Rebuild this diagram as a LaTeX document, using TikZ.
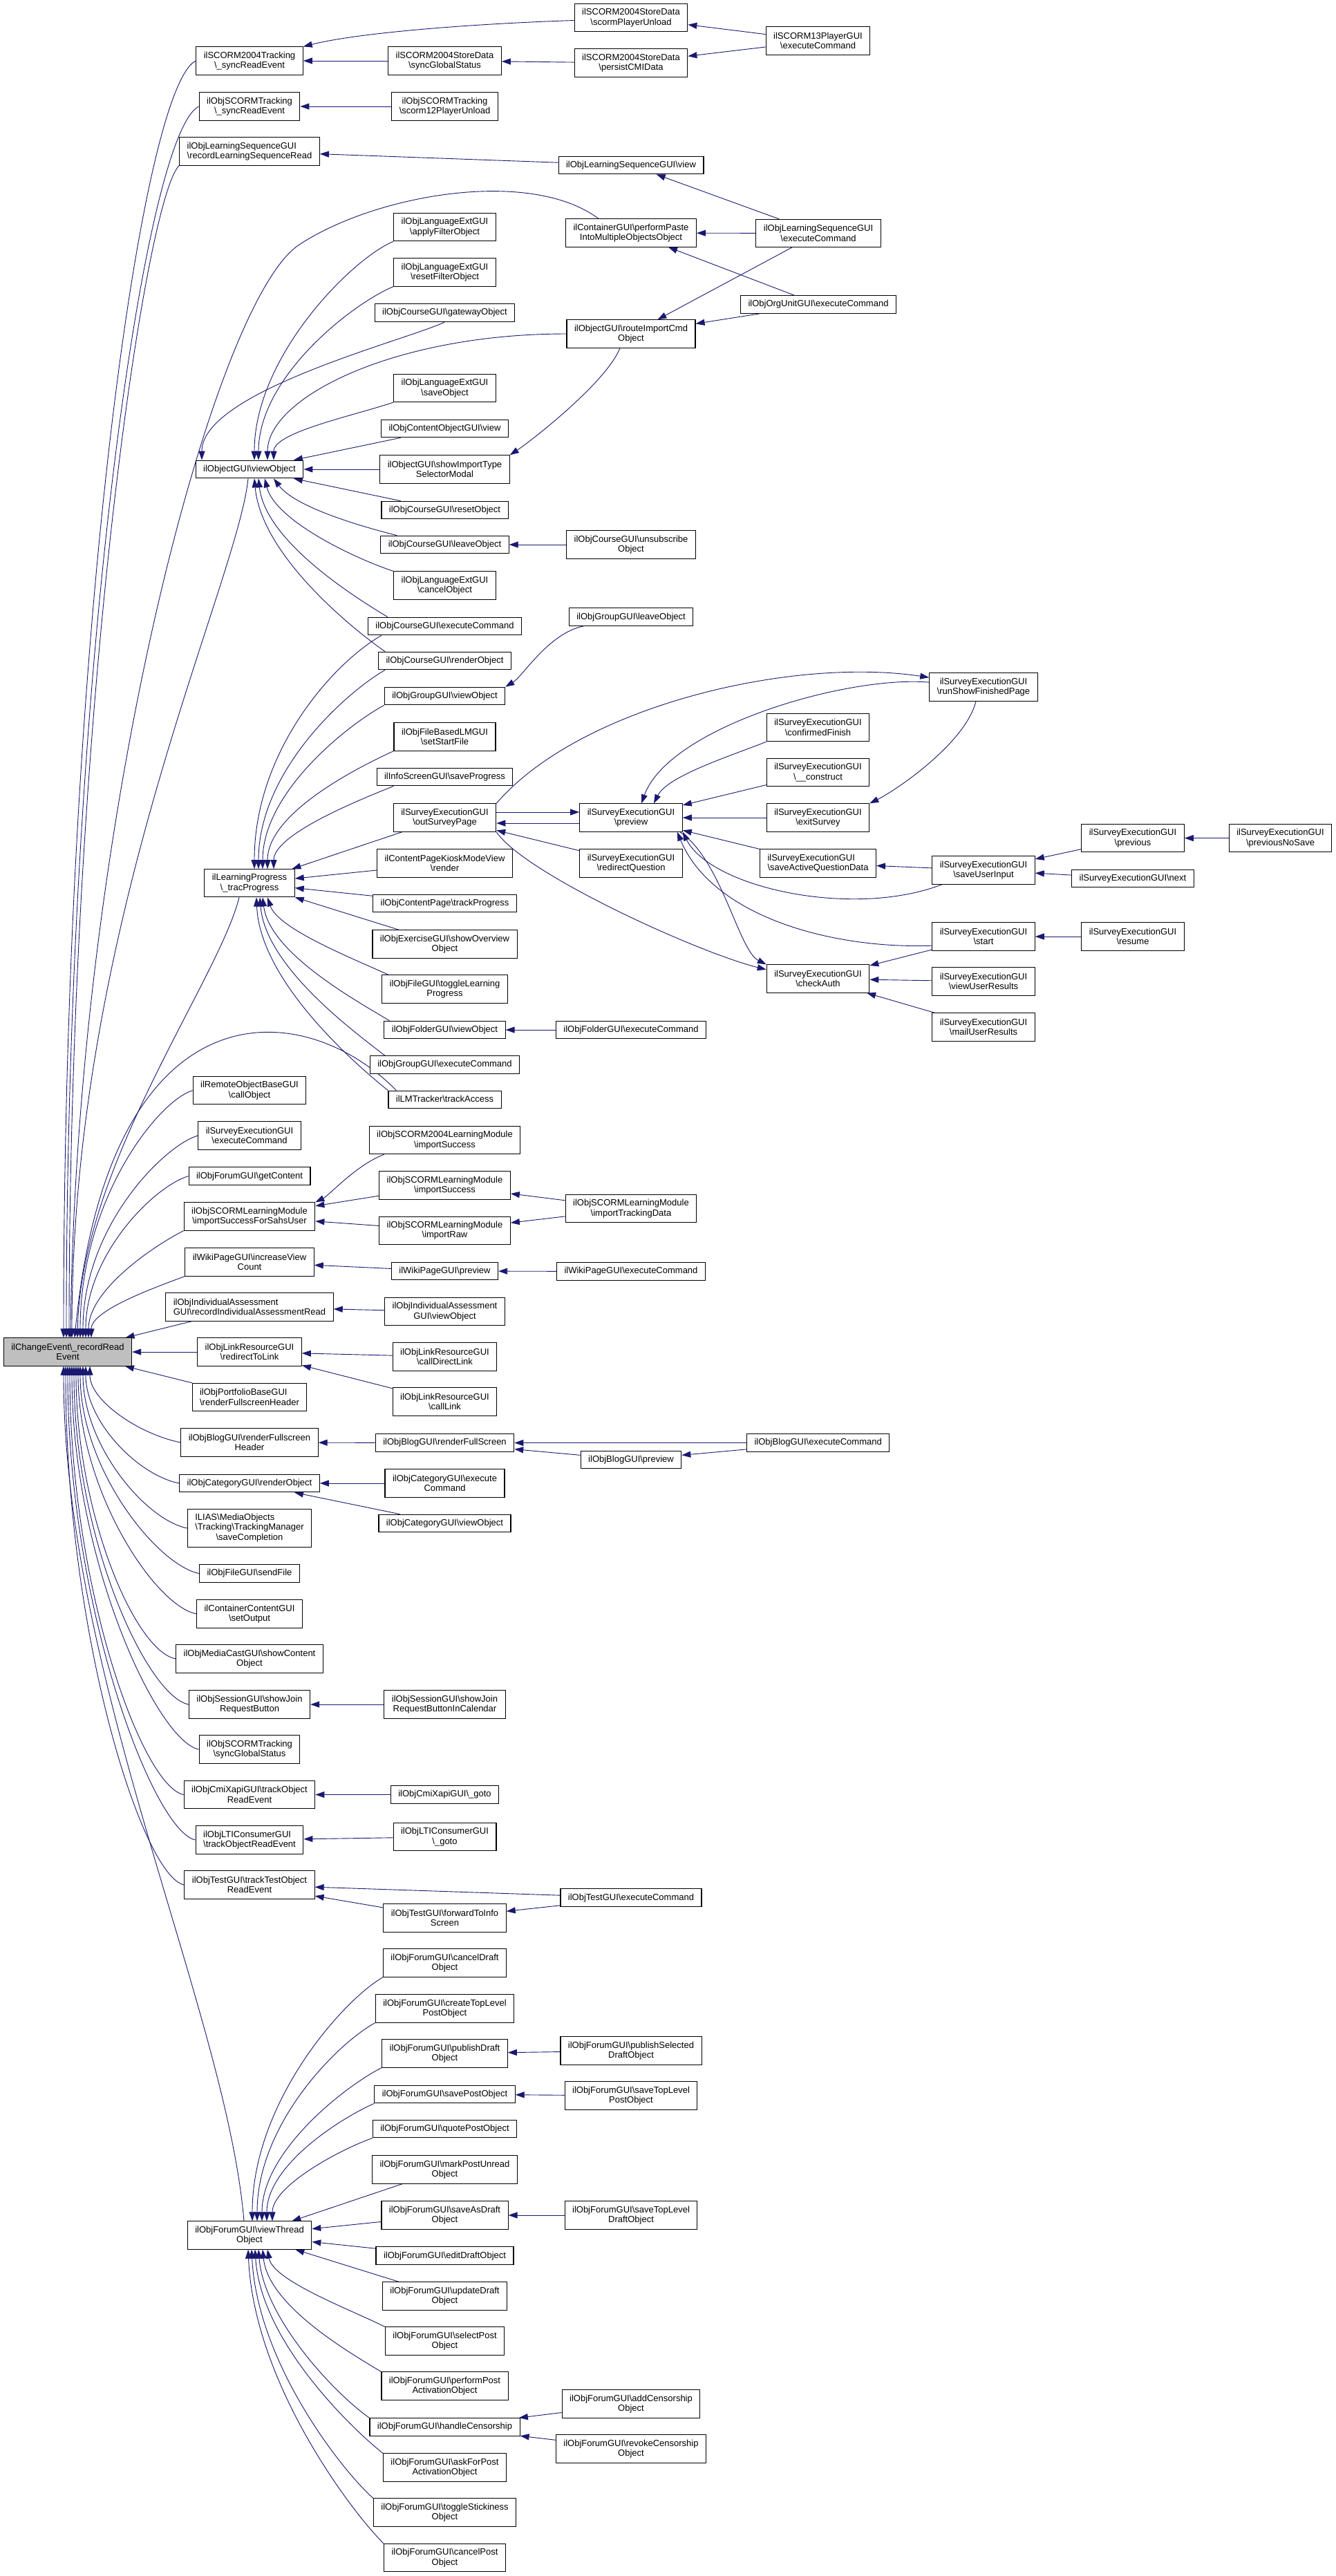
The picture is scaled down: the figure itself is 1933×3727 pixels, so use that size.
\documentclass[tikz,border=0pt]{standalone}
\usepackage{fontspec}
\setmainfont{Liberation Sans}
\usetikzlibrary{arrows.meta}
\pgfdeclarelayer{bg}
\pgfsetlayers{bg,main}
\definecolor{edgeblue}{HTML}{191970}
\newcommand{\bsl}{\textbackslash}
\tikzset{
  fn/.style={draw=black, line width=1.1pt, fill=white, inner xsep=11pt, inner ysep=0pt,
    font=\fontsize{13}{14.5}\selectfont},
  fnone/.style={fn, align=center, minimum height=25.6pt, text height=9.6pt, text depth=2.8pt},
  fntwo/.style={fn, align=center, minimum height=40.2pt},
  call/.style={draw=edgeblue, line width=0.9pt, {Triangle[length=13pt,width=9pt]}-},
}
\begin{document}
\begin{tikzpicture}[x=1pt,y=-1pt]
\useasboundingbox (0,0) rectangle (1933,3727);

% the function itself
\node[fntwo, fill=black!25] (ce) at (98,1956) {ilChangeEvent\bsl\_recordRead\\Event};

% direct callers
\node[fntwo] (sctrack) at (361,88) {ilSCORM2004Tracking\\\bsl\_syncReadEvent};
\node[fntwo] (objscormtrack) at (361,154) {ilObjSCORMTracking\\\bsl\_syncReadEvent};
\node[fntwo, align=left] (recordls) at (361,219) {ilObjLearningSequenceGUI\\\bsl recordLearningSequenceRead};
\node[fnone] (viewobj) at (361,679) {ilObjectGUI\bsl viewObject};
\node[fntwo] (trac) at (361,1277.8) {ilLearningProgress\\\bsl\_tracProgress};
\node[fntwo] (callobj) at (361,1577.7) {ilRemoteObjectBaseGUI\\\bsl callObject};
\node[fntwo] (surveyexec) at (361,1643) {ilSurveyExecutionGUI\\\bsl executeCommand};
\node[fnone] (getcontent) at (361,1701.6) {ilObjForumGUI\bsl getContent};
\node[fntwo] (importsahs) at (361,1760) {ilObjSCORMLearningModule\\\bsl importSuccessForSahsUser};
\node[fntwo] (increaseview) at (361,1826) {ilWikiPageGUI\bsl increaseView\\Count};
\node[fntwo, align=left] (indassess) at (361,1891) {ilObjIndividualAssessment\\GUI\bsl recordIndividualAssessmentRead};
\node[fntwo] (redirect) at (361,1956) {ilObjLinkResourceGUI\\\bsl redirectToLink};
\node[fntwo, align=left] (portfolio) at (361,2021.5) {ilObjPortfolioBaseGUI\\\bsl renderFullscreenHeader};
\node[fntwo] (bloghdr) at (361,2087) {ilObjBlogGUI\bsl renderFullscreen\\Header};
\node[fnone] (catrender) at (361,2146) {ilObjCategoryGUI\bsl renderObject};
\node[fn, minimum height=55.5pt] (mediatrack) at (361,2211) {\begin{tabular}{@{}l@{}}ILIAS\bsl MediaObjects\\\bsl Tracking\bsl TrackingManager\\\multicolumn{1}{@{}c@{}}{\bsl saveCompletion}\end{tabular}};
\node[fnone] (sendfile) at (361,2276.5) {ilObjFileGUI\bsl sendFile};
\node[fntwo] (setoutput) at (361,2335) {ilContainerContentGUI\\\bsl setOutput};
\node[fntwo] (mediacast) at (361,2400) {ilObjMediaCastGUI\bsl showContent\\Object};
\node[fntwo] (joinbtn) at (361,2466) {ilObjSessionGUI\bsl showJoin\\RequestButton};
\node[fntwo] (syncglobal) at (361,2531) {ilObjSCORMTracking\\\bsl syncGlobalStatus};
\node[fntwo] (cmitrack) at (361,2596.5) {ilObjCmiXapiGUI\bsl trackObject\\ReadEvent};
\node[fntwo, align=left] (ltitrack) at (361,2662) {ilObjLTIConsumerGUI\\\bsl trackObjectReadEvent};
\node[fntwo] (testtrack) at (361,2727) {ilObjTestGUI\bsl trackTestObject\\ReadEvent};
\node[fntwo] (vthread) at (361,3234) {ilObjForumGUI\bsl viewThread\\Object};

% second column
\node[fntwo] (syncstatus) at (643.5,88) {ilSCORM2004StoreData\\\bsl syncGlobalStatus};
\node[fntwo] (scorm12) at (643.5,154) {ilObjSCORMTracking\\\bsl scorm12PlayerUnload};
\node[fntwo] (applyfilter) at (643.5,328.7) {ilObjLanguageExtGUI\\\bsl applyFilterObject};
\node[fntwo] (resetfilter) at (643.5,394) {ilObjLanguageExtGUI\\\bsl resetFilterObject};
\node[fnone] (gateway) at (643.5,452.5) {ilObjCourseGUI\bsl gatewayObject};
\node[fntwo] (saveobj) at (643.5,561.5) {ilObjLanguageExtGUI\\\bsl saveObject};
\node[fnone] (contentview) at (643.5,620) {ilObjContentObjectGUI\bsl view};
\node[fntwo] (showimp) at (643.5,679) {ilObjectGUI\bsl showImportType\\SelectorModal};
\node[fnone] (crsreset) at (643.5,738) {ilObjCourseGUI\bsl resetObject};
\node[fnone] (crsleave) at (643.5,788) {ilObjCourseGUI\bsl leaveObject};
\node[fntwo] (cancelobj) at (643.5,847) {ilObjLanguageExtGUI\\\bsl cancelObject};
\node[fnone] (crsexec) at (643.5,906) {ilObjCourseGUI\bsl executeCommand};
\node[fnone] (crsrender) at (643.5,956) {ilObjCourseGUI\bsl renderObject};
\node[fnone] (grpview) at (643.5,1007) {ilObjGroupGUI\bsl viewObject};
\node[fntwo] (startfile) at (643.5,1066) {ilObjFileBasedLMGUI\\\bsl setStartFile};
\node[fnone] (infosave) at (643.5,1124) {ilInfoScreenGUI\bsl saveProgress};
\node[fntwo] (outsurvey) at (643.5,1183) {ilSurveyExecutionGUI\\\bsl outSurveyPage};
\node[fntwo] (kiosk) at (643.5,1249) {ilContentPageKioskModeView\\\bsl render};
\node[fnone] (cptrack) at (643.5,1307) {ilObjContentPage\bsl trackProgress};
\node[fntwo] (exoverview) at (643.5,1366) {ilObjExerciseGUI\bsl showOverview\\Object};
\node[fntwo] (filetoggle) at (643.5,1431) {ilObjFileGUI\bsl toggleLearning\\Progress};
\node[fnone] (fldview) at (643.5,1490) {ilObjFolderGUI\bsl viewObject};
\node[fnone] (grpexec) at (643.5,1540.5) {ilObjGroupGUI\bsl executeCommand};
\node[fnone] (lmtrack) at (643.5,1591) {ilLMTracker\bsl trackAccess};
\node[fntwo] (imp2004) at (643.5,1649.6) {ilObjSCORM2004LearningModule\\\bsl importSuccess};
\node[fntwo] (impsucc) at (643.5,1715) {ilObjSCORMLearningModule\\\bsl importSuccess};
\node[fntwo] (impraw) at (643.5,1780.3) {ilObjSCORMLearningModule\\\bsl importRaw};
\node[fnone] (wikipreview) at (643.5,1839) {ilWikiPageGUI\bsl preview};
\node[fntwo] (indview) at (643.5,1897.8) {ilObjIndividualAssessment\\GUI\bsl viewObject};
\node[fntwo] (calldirect) at (643.5,1963) {ilObjLinkResourceGUI\\\bsl callDirectLink};
\node[fntwo] (calllink) at (643.5,2028) {ilObjLinkResourceGUI\\\bsl callLink};
\node[fnone] (blogfull) at (643.5,2087.5) {ilObjBlogGUI\bsl renderFullScreen};
\node[fntwo] (catexec) at (643.5,2146) {ilObjCategoryGUI\bsl execute\\Command};
\node[fnone] (catview) at (643.5,2204) {ilObjCategoryGUI\bsl viewObject};
\node[fntwo] (joincal) at (643.5,2466) {ilObjSessionGUI\bsl showJoin\\RequestButtonInCalendar};
\node[fnone] (cmigoto) at (643.5,2596.5) {ilObjCmiXapiGUI\bsl\_goto};
\node[fntwo] (ltigoto) at (643.5,2657.6) {ilObjLTIConsumerGUI\\\bsl\_goto};
\node[fntwo] (forwardinfo) at (643.5,2775) {ilObjTestGUI\bsl forwardToInfo\\Screen};
\node[fntwo] (canceldraft) at (643.5,2840) {ilObjForumGUI\bsl cancelDraft\\Object};
\node[fntwo] (createtop) at (643.5,2906) {ilObjForumGUI\bsl createTopLevel\\PostObject};
\node[fntwo] (publishdraft) at (643.5,2971) {ilObjForumGUI\bsl publishDraft\\Object};
\node[fnone] (savepost) at (643.5,3030) {ilObjForumGUI\bsl savePostObject};
\node[fnone] (quotepost) at (643.5,3080) {ilObjForumGUI\bsl quotePostObject};
\node[fntwo] (markunread) at (643.5,3139) {ilObjForumGUI\bsl markPostUnread\\Object};
\node[fntwo] (saveasdraft) at (643.5,3205) {ilObjForumGUI\bsl saveAsDraft\\Object};
\node[fnone] (editdraft) at (643.5,3263.6) {ilObjForumGUI\bsl editDraftObject};
\node[fntwo] (updatedraft) at (643.5,3322) {ilObjForumGUI\bsl updateDraft\\Object};
\node[fntwo] (selectpost) at (643.5,3387) {ilObjForumGUI\bsl selectPost\\Object};
\node[fntwo] (performact) at (643.5,3452) {ilObjForumGUI\bsl performPost\\ActivationObject};
\node[fnone] (censorship) at (643.5,3511.5) {ilObjForumGUI\bsl handleCensorship};
\node[fntwo] (askact) at (643.5,3570) {ilObjForumGUI\bsl askForPost\\ActivationObject};
\node[fntwo] (sticky) at (643.5,3635) {ilObjForumGUI\bsl toggleStickiness\\Object};
\node[fntwo] (cancelpost) at (643.5,3700.6) {ilObjForumGUI\bsl cancelPost\\Object};

% third column
\node[fntwo] (playerunload) at (913,25.5) {ilSCORM2004StoreData\\\bsl scormPlayerUnload};
\node[fntwo] (persistcmi) at (913,91) {ilSCORM2004StoreData\\\bsl persistCMIData};
\node[fnone] (lsview) at (913,239) {ilObjLearningSequenceGUI\bsl view};
\node[fntwo] (paste) at (913,337) {ilContainerGUI\bsl performPaste\\IntoMultipleObjectsObject};
\node[fntwo] (routeimp) at (913,483) {ilObjectGUI\bsl routeImportCmd\\Object};
\node[fntwo] (unsubscribe) at (913,788) {ilObjCourseGUI\bsl unsubscribe\\Object};
\node[fnone] (grpleave) at (913,892.6) {ilObjGroupGUI\bsl leaveObject};
\node[fntwo] (preview) at (913,1183) {ilSurveyExecutionGUI\\\bsl preview};
\node[fntwo] (redirectq) at (913,1249) {ilSurveyExecutionGUI\\\bsl redirectQuestion};
\node[fnone] (fldexec) at (913,1490) {ilObjFolderGUI\bsl executeCommand};
\node[fntwo] (importtrack) at (913,1748.7) {ilObjSCORMLearningModule\\\bsl importTrackingData};
\node[fnone] (wikiexec) at (913,1839.5) {ilWikiPageGUI\bsl executeCommand};
\node[fnone] (blogpreview) at (913,2112) {ilObjBlogGUI\bsl preview};
\node[fnone] (testexec) at (913,2745.6) {ilObjTestGUI\bsl executeCommand};
\node[fntwo] (publishsel) at (913,2967) {ilObjForumGUI\bsl publishSelected\\DraftObject};
\node[fntwo] (savetoppost) at (913,3032) {ilObjForumGUI\bsl saveTopLevel\\PostObject};
\node[fntwo] (savetopdraft) at (913,3205) {ilObjForumGUI\bsl saveTopLevel\\DraftObject};
\node[fntwo] (addcensor) at (913,3478) {ilObjForumGUI\bsl addCensorship\\Object};
\node[fntwo] (revokecensor) at (913,3543) {ilObjForumGUI\bsl revokeCensorship\\Object};

% fourth column and beyond
\node[fntwo] (scorm13exec) at (1183.5,59) {ilSCORM13PlayerGUI\\\bsl executeCommand};
\node[fntwo] (lsexec) at (1184,337.5) {ilObjLearningSequenceGUI\\\bsl executeCommand};
\node[fnone] (orgexec) at (1184,440.5) {ilObjOrgUnitGUI\bsl executeCommand};
\node[fntwo] (confirmed) at (1183.5,1052.5) {ilSurveyExecutionGUI\\\bsl confirmedFinish};
\node[fntwo] (construct) at (1183.5,1117.5) {ilSurveyExecutionGUI\\\bsl\_\_construct};
\node[fntwo] (exitsurvey) at (1183.5,1183) {ilSurveyExecutionGUI\\\bsl exitSurvey};
\node[fntwo, align=left] (saveactive) at (1183.5,1249) {ilSurveyExecutionGUI\\\bsl saveActiveQuestionData};
\node[fntwo] (checkauth) at (1183.5,1416) {ilSurveyExecutionGUI\\\bsl checkAuth};
\node[fnone] (blogexec) at (1183.7,2087.5) {ilObjBlogGUI\bsl executeCommand};
\node[fntwo] (runshow) at (1423,994) {ilSurveyExecutionGUI\\\bsl runShowFinishedPage};
\node[fntwo] (saveinput) at (1423,1259) {ilSurveyExecutionGUI\\\bsl saveUserInput};
\node[fntwo] (svstart) at (1423,1355) {ilSurveyExecutionGUI\\\bsl start};
\node[fntwo] (viewresults) at (1423,1420) {ilSurveyExecutionGUI\\\bsl viewUserResults};
\node[fntwo] (mailresults) at (1423,1486) {ilSurveyExecutionGUI\\\bsl mailUserResults};
\node[fntwo] (previous) at (1639,1212.6) {ilSurveyExecutionGUI\\\bsl previous};
\node[fnone] (svnext) at (1639,1271) {ilSurveyExecutionGUI\bsl next};
\node[fntwo] (resume) at (1639,1355) {ilSurveyExecutionGUI\\\bsl resume};
\node[fntwo] (prevnosave) at (1852.5,1212.6) {ilSurveyExecutionGUI\\\bsl previousNoSave};

\begin{pgfonlayer}{bg}
\fill[white] (0,0) rectangle (1933,3727);

% callers above the function
\foreach \n/\a/\s/\d/\cx/\cy in {sctrack/west/-6/1000/-80/40, objscormtrack/west/-2/950/-80/40,
    recordls/south west/2/900/-50/50, callobj/west/18/200/-50/15, surveyexec/west/22/160/-50/15,
    getcontent/west/26/120/-50/15, importsahs/south west/30/70/-40/20, increaseview/south west/34/40/-40/15}
  \draw[call] ([xshift=\s]ce.north) .. controls +(0,-\d) and +(\cx,\cy) .. (\n.\a);
\draw[call] ([xshift=6]ce.north) .. controls +(0,-600) and +(-15,150) .. ([xshift=-2]viewobj.south);
\draw[call] ([xshift=14]ce.north) .. controls +(5,-250) and +(-30,120) .. ([xshift=-15]trac.south);
\draw[call] ([xshift=4]ce.north) .. controls +(8,-736) and (307,436) .. (433,354)
  .. controls (542,282) and (766,242) .. ([xshift=-47]paste.north);
\draw[call] ([xshift=10]ce.north) .. controls +(50,-516) and +(-135,-138) .. ([xshift=12]lmtrack.north west);
\draw[call] (ce) -- (indassess);
\draw[call] (ce) -- (redirect);
\draw[call] (ce) -- (portfolio);

% callers below the function
\foreach \n/\s/\d in {bloghdr/32/50, catrender/26/80, mediatrack/22/115, sendfile/18/150,
    setoutput/15/180, mediacast/12/210, joinbtn/9/250, syncglobal/6/280, cmitrack/3/320,
    ltitrack/0/350, testtrack/-3/390}
  \draw[call] ([xshift=\s]ce.south) .. controls +(0,\d) and +(-60,-12) .. (\n.west);
\draw[call] ([xshift=-6]ce.south) .. controls +(0,450) and +(-25,-300) .. ([xshift=-8]vthread.north);

% scorm
\draw[call] (sctrack.north east) .. controls +(80,-20) and +(-150,5) .. ([yshift=-4]playerunload.west);
\draw[call] (sctrack) -- (syncstatus);
\draw[call] (syncstatus) -- (persistcmi);
\draw[call] (playerunload) -- (scorm13exec);
\draw[call] (persistcmi) -- (scorm13exec);
\draw[call] (objscormtrack) -- (scorm12);

% learning sequence, container, import
\draw[call] (recordls) -- (lsview);
\draw[call] (lsview) -- (lsexec);
\draw[call] (paste) -- (lsexec);
\draw[call] (paste) -- (orgexec);
\draw[call] (routeimp) -- (lsexec);
\draw[call] (routeimp) -- (orgexec);
\draw[call] (showimp.north east) .. controls +(30,-20) and +(-20,50) .. ([xshift=-16]routeimp.south);

% viewObject
\foreach \n/\a/\s/\d/\cx/\cy in {applyfilter/south west/7/150/-60/25, resetfilter/south west/13/120/-60/25,
    gateway/south/-69/100/-50/25, saveobj/south west/35/40/-60/20}
  \draw[call] ([xshift=\s]viewobj.north) .. controls +(0,-\d) and +(\cx,\cy) .. (\n.\a);
\draw[call] ([xshift=26]viewobj.north) .. controls +(0,-90) and +(-250,0) .. (routeimp.west);
\draw[call] (viewobj) -- (contentview);
\draw[call] (viewobj) -- (showimp);
\draw[call] (viewobj) -- (crsreset);
\draw[call] ([xshift=35]viewobj.south) .. controls +(30,40) and +(-60,-15) .. ([xshift=24]crsleave.north west);
\draw[call] ([xshift=22]viewobj.south) .. controls +(15,60) and +(-60,-20) .. (cancelobj.north west);
\draw[call] ([xshift=13]viewobj.south) .. controls +(10,90) and +(-50,-30) .. ([xshift=29]crsexec.north west);
\draw[call] ([xshift=7]viewobj.south) .. controls +(10,110) and +(-50,-35) .. ([xshift=10]crsrender.north west);
\draw[call] (crsleave) -- (unsubscribe);

% tracProgress
\draw[call] ([xshift=7]trac.north) .. controls +(0,-170) and +(-70,40) .. ([xshift=20]crsexec.south west);
\draw[call] ([xshift=13]trac.north) .. controls +(0,-140) and +(-60,35) .. ([xshift=10]crsrender.south west);
\draw[call] ([xshift=19]trac.north) .. controls +(0,-110) and +(-55,30) .. (grpview.south west);
\draw[call] ([xshift=26]trac.north) .. controls +(0,-80) and +(-55,25) .. (startfile.south west);
\draw[call] ([xshift=35]trac.north) .. controls +(0,-50) and +(-50,20) .. ([xshift=25]infosave.south west);
\draw[call] (trac) -- (outsurvey);
\draw[call] (trac) -- (kiosk);
\draw[call] (trac) -- (cptrack);
\draw[call] (trac) -- (exoverview);
\draw[call] ([xshift=26]trac.south) .. controls +(15,45) and +(-55,-25) .. ([xshift=10]filetoggle.north west);
\draw[call] ([xshift=19]trac.south) .. controls +(10,80) and +(-50,-30) .. ([xshift=8]fldview.north west);
\draw[call] ([xshift=15]trac.south) .. controls +(8,100) and +(-45,-35) .. ([xshift=22]grpexec.north west);
\draw[call] ([xshift=10]trac.south) .. controls +(5,120) and +(-50,-40) .. (lmtrack.north west);
\draw[call] (grpview.north east) .. controls +(25,-15) and +(-50,10) .. ([xshift=-69]grpleave.south);
\draw[call] (fldview) -- (fldexec);

% survey
\draw[call] ([yshift=8]preview.west) -- ([yshift=8]outsurvey.east);
\draw[call] ([yshift=-8]outsurvey.east) -- ([yshift=-8]preview.west);
\draw[call] (outsurvey) -- (redirectq);
\draw[call] (checkauth.170) .. controls +(-100,-25) and +(40,60) .. (outsurvey.south east);
\draw[call] (runshow.170) .. controls +(-200,-30) and +(120,-140) .. (outsurvey.north east);
\draw[call] ([xshift=15]preview.north) .. controls +(40,-110) and +(-120,-10) .. (runshow.175);
\draw[call] (exitsurvey.north east) .. controls +(40,-20) and +(-15,60) .. ([xshift=-11]runshow.south);
\draw[call] ([xshift=33]preview.north) .. controls +(20,-40) and +(-50,20) .. (confirmed.south west);
\draw[call] (preview) -- (construct);
\draw[call] (preview) -- (exitsurvey);
\draw[call] (preview) -- (saveactive);
\draw[call] (preview.south east) .. controls +(40,80) and +(-130,50) .. ([xshift=-60]saveinput.south);
\draw[call] ([xshift=-8]preview.south east) .. controls +(50,120) and +(-150,5) .. (svstart.190);
\draw[call] (checkauth.north west) .. controls +(-40,-20) and +(60,40) .. ([xshift=-4]preview.south east);
\draw[call] (saveactive) -- (saveinput);
\draw[call] (saveinput) -- (previous);
\draw[call] (saveinput) -- (svnext);
\draw[call] (previous) -- (prevnosave);
\draw[call] (checkauth) -- (svstart);
\draw[call] (checkauth) -- (viewresults);
\draw[call] (checkauth) -- (mailresults);
\draw[call] (svstart) -- (resume);

% scorm import, wiki, assessment, link
\draw[call] (importsahs.north east) .. controls +(20,-10) and +(-40,15) .. ([xshift=22]imp2004.south west);
\draw[call] (importsahs) -- (impsucc);
\draw[call] (importsahs) -- (impraw);
\draw[call] (impsucc) -- (importtrack);
\draw[call] (impraw) -- (importtrack);
\draw[call] (increaseview) -- (wikipreview);
\draw[call] (wikipreview) -- (wikiexec);
\draw[call] (indassess) -- (indview);
\draw[call] (redirect) -- (calldirect);
\draw[call] (redirect) -- (calllink);

% blog, category, session, xapi, lti, test
\draw[call] (bloghdr) -- (blogfull);
\draw[call] (blogfull) -- (blogexec);
\draw[call] (blogfull) -- (blogpreview);
\draw[call] (blogpreview) -- (blogexec);
\draw[call] (catrender) -- (catexec);
\draw[call] (catrender) -- (catview);
\draw[call] (joinbtn) -- (joincal);
\draw[call] (cmitrack) -- (cmigoto);
\draw[call] (ltitrack) -- (ltigoto);
\draw[call] (testtrack) -- (testexec);
\draw[call] (testtrack) -- (forwardinfo);
\draw[call] (forwardinfo) -- (testexec);

% forum thread
\foreach \n/\a/\s/\d/\cx/\cy in {canceldraft/south west/4/170/-60/35, createtop/south west/11/140/-55/30,
    publishdraft/south west/18/100/-55/28, savepost/south west/25/80/-50/22, quotepost/south west/33/50/-50/18}
  \draw[call] ([xshift=\s]vthread.north) .. controls +(0,-\d) and +(\cx,\cy) .. (\n.\a);
\draw[call] (vthread) -- (markunread);
\draw[call] (vthread) -- (saveasdraft);
\draw[call] (vthread) -- (editdraft);
\draw[call] (vthread) -- (updatedraft);
\foreach \n/\s/\d/\cy in {selectpost/26/45/-25, performact/19/80/-30, censorship/13/100/-35,
    askact/8/130/-40, sticky/3/160/-45, cancelpost/-2/190/-50}
  \draw[call] ([xshift=\s]vthread.south) .. controls +(8,\d) and +(-50,\cy) .. (\n.north west);
\draw[call] (publishdraft) -- (publishsel);
\draw[call] (savepost) -- (savetoppost);
\draw[call] (saveasdraft) -- (savetopdraft);
\draw[call] (censorship) -- (addcensor);
\draw[call] (censorship) -- (revokecensor);
\end{pgfonlayer}
\end{tikzpicture}
\end{document}
